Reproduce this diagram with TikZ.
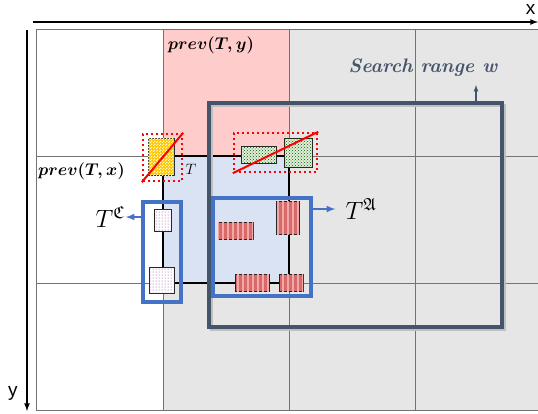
\RequirePackage{fix-cm}
\documentclass[tikz,border=0pt]{standalone}
\usepackage{amsmath,amssymb}
\usepackage{fontspec}
\newfontfamily\axisfont{Liberation Sans}
\usetikzlibrary{patterns}

\definecolor{cellgrey}{HTML}{E7E6E6}
\definecolor{cellpink}{HTML}{FFCCCC}
\definecolor{cellblue}{HTML}{DAE3F3}
\definecolor{selblue}{HTML}{4472C4}
\definecolor{slate}{HTML}{44546A}
\definecolor{stripered}{HTML}{D86A6A}
\definecolor{stripelight}{HTML}{F0A8A8}
\definecolor{hatchgreen}{HTML}{E2EFDA}
\definecolor{dotyellow}{HTML}{FFC000}

% fine fills for the tiles
\pgfdeclarepatternformonly{finechecker}{\pgfpointorigin}{\pgfpoint{3pt}{3pt}}{\pgfpoint{3pt}{3pt}}{
    \pgfpathrectangle{\pgfpointorigin}{\pgfpoint{1.5pt}{1.5pt}}
    \pgfpathrectangle{\pgfpoint{1.5pt}{1.5pt}}{\pgfpoint{1.5pt}{1.5pt}}
    \pgfusepath{fill}}
\pgfdeclarepatternformonly{widestripes}{\pgfpoint{0pt}{-0.5pt}}{\pgfpoint{5pt}{5.5pt}}{\pgfpoint{5pt}{5pt}}{
    \pgfpathrectangle{\pgfpoint{1.5pt}{-0.5pt}}{\pgfpoint{2pt}{6pt}}
    \pgfusepath{fill}}

\begin{document}
\begin{tikzpicture}[
    x=1pt, y=-1pt,
    gridline/.style={draw=black!55, line width=0.9pt},
    axis/.style={line width=1.6pt, -latex},
    box/.style={rectangle, draw=black!85, line width=0.8pt, inner sep=0pt},
    ybox/.style={box, fill=dotyellow, postaction={pattern=finechecker, pattern color=yellow!25}},
    gbox/.style={box, fill=hatchgreen, postaction={pattern=crosshatch dots, pattern color=green!35!black}},
    pbox/.style={box, fill=white, postaction={pattern=dots, pattern color=violet!75}},
    rbox/.style={box, fill=stripered, postaction={pattern=widestripes, pattern color=stripelight}},
    redsel/.style={rectangle, draw=red, line width=2.4pt, dash pattern=on 2.4pt off 2.6pt, inner sep=0pt},
    bluesel/.style={rectangle, draw=selblue, line width=3.4pt, inner sep=0pt},
    bluearrow/.style={draw=selblue, line width=2pt, -latex},
    biglabel/.style={font=\fontsize{25}{28}\selectfont, inner sep=1pt},
    prevlabel/.style={font=\fontsize{17}{20}\selectfont, inner sep=0pt}
]
\useasboundingbox (0,0) rectangle (538,413);

% ── Cells ───────────────────────────────────────────────────
\fill[cellgrey] (163,29) rectangle (538,410);
\fill[cellpink] (163,29) rectangle (289,156);
\fill[cellblue] (163,156) rectangle (289,283);

% ── Grid ────────────────────────────────────────────────────
\foreach \gx in {36,163,289,415}
    \draw[gridline] (\gx,29) -- (\gx,410);
\foreach \gy in {29,156,283,410}
    \draw[gridline] (36,\gy) -- (538,\gy);

% current tile T
\node[rectangle, draw=black, line width=1.1pt, inner sep=0pt,
      minimum width=126pt, minimum height=127pt] (tcell) at (226,219.5) {};

% ── Axes ────────────────────────────────────────────────────
\coordinate (xs) at (33,22);
\coordinate (xe) at (538,22);
\coordinate (ys) at (27,30);
\coordinate (ye) at (27,411);
\draw[axis] (xs) -- (xe);
\draw[axis] (ys) -- (ye);
\node[font=\axisfont\fontsize{19}{22}\selectfont] (xlab) at (530.5,9) {x};
\node[font=\axisfont\fontsize{19}{22}\selectfont] (ylab) at (13,393) {y};

% ── Search range ────────────────────────────────────────────
\draw[black!25, line width=3.5pt] (211.5,105.5) rectangle (504.5,329.5);  % shadow
\node[rectangle, draw=slate, line width=3.5pt, inner sep=0pt,
      minimum width=293pt, minimum height=224pt] (search) at (355.5,215) {};
\node[font=\bfseries\itshape\fontsize{19.5}{22}\selectfont, text=slate] (wlab) at (423,68)
    {Search range w};
\coordinate (wtip) at (476,85);
\draw[draw=slate, line width=1.2pt, -latex] (search.north -| wtip) -- (wtip);

% ── Previous tiles ──────────────────────────────────────────
\node[ybox, minimum width=26pt, minimum height=37pt] (yel) at (161,156.5) {};
\node[gbox, minimum width=35pt, minimum height=17pt] (g1) at (258.5,154.5) {};
\node[gbox, minimum width=28pt, minimum height=29pt] (g2) at (298,152.5) {};
\node[redsel, minimum width=39pt, minimum height=47pt] (rx) at (162.5,157.5) {};
\node[redsel, minimum width=83pt, minimum height=39pt] (ry) at (275.5,152.5) {};
\foreach \r in {rx, ry}
    \draw[red, line width=2pt] (\r.south west) -- (\r.north east);

% ── Candidate blocks ────────────────────────────────────────
\node[pbox, minimum width=17pt, minimum height=22pt] (p1) at (162.5,220) {};
\node[pbox, minimum width=25pt, minimum height=26pt] (p2) at (161.5,280) {};
\node[rbox, minimum width=35pt, minimum height=17pt] (ra) at (235.5,230.5) {};
\node[rbox, minimum width=23pt, minimum height=33pt] (rb) at (287.5,217.5) {};
\node[rbox, minimum width=34pt, minimum height=17pt] (rc) at (252,282.5) {};
\node[rbox, minimum width=24pt, minimum height=17pt] (rd) at (291,282.5) {};

% ── Selections ──────────────────────────────────────────────
\node[bluesel, minimum width=38pt, minimum height=100pt] (csel) at (162,252) {};
\node[bluesel, minimum width=98pt, minimum height=98pt] (asel) at (262,247) {};
\node[biglabel] (tC) at (110,217) {$T^{\mathfrak{C}}$};
\node[biglabel] (tA) at (361,209) {$T^{\mathfrak{A}}$};
\draw[bluearrow] (csel.west |- tC) -- (tC.east);
\draw[bluearrow, shorten >=9pt] (asel.east |- tA) -- (tA.west);

% ── Labels ──────────────────────────────────────────────────
\node[prevlabel] (prevy) at (211,45) {$\boldsymbol{prev(T,y)}$};
\node[prevlabel] (prevx) at (81.5,171) {$\boldsymbol{prev(T,x)}$};
\node[font=\fontsize{15}{18}\selectfont, inner sep=0pt] (tlab) at (191,169) {$T$};

\end{tikzpicture}
\end{document}
